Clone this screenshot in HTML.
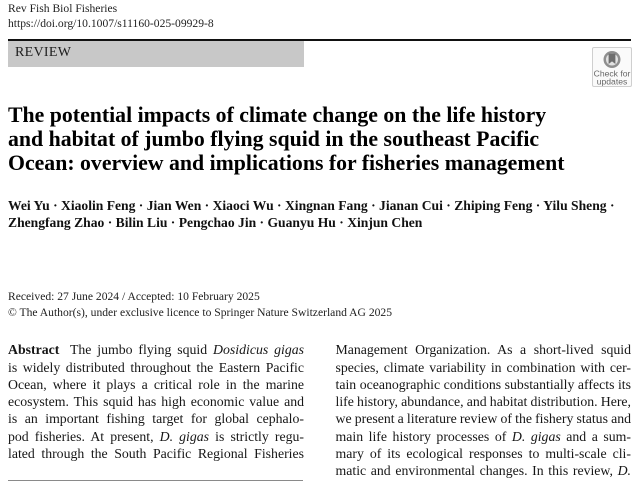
<!DOCTYPE html>
<html>
<head>
<meta charset="utf-8">
<style>
  html, body { margin:0; padding:0; }
  body { width:639px; height:482px; background:#fff; position:relative; overflow:hidden;
         font-family:"Liberation Serif", "Times New Roman", serif; color:#1a1a1a; }
  .a { position:absolute; white-space:nowrap; }
  .hdr { font-size:11.6px; line-height:11.6px; left:8px; color:#1e1e1e; }
  .rule { position:absolute; left:8px; top:39px; width:623px; height:2px; background:#111; }
  .review { position:absolute; left:8px; top:41px; width:296px; height:26px; background:#c8c8c8; }
  .revtxt { font-size:14px; line-height:14px; left:15px; top:46.3px; letter-spacing:0.3px; color:#1e1e1e; }
  .title { font-weight:bold; font-size:21.8px; line-height:24.2px; left:8px; top:102.8px; color:#000; }
  .auth { font-weight:bold; font-size:13.6px; line-height:17px; left:8px; top:197.1px; color:#111; }
  .dates { font-size:11.6px; line-height:16px; left:8px; top:288.8px; color:#1e1e1e; }
  .col { position:absolute; top:341.4px; font-size:13.8px; line-height:17.25px; color:#161616; }
  .col div { text-align:justify; text-align-last:justify; word-spacing:-1px; height:17.25px; }
  .left { left:8px; width:296px; }
  .right { left:335.5px; width:295.5px; }
  .bottom { position:absolute; left:8px; top:479.5px; width:295px; height:1.5px; background:#8a8a8a; }
  .badge { position:absolute; left:592px; top:47px; width:38px; height:38px; border:1px solid #cfcfcf; border-radius:2px; background:#fafafa; }
</style>
</head>
<body>
  <div class="a hdr" style="top:3px;">Rev Fish Biol Fisheries</div>
  <div class="a hdr" style="top:17.6px;">https://doi.org/10.1007/s11160-025-09929-8</div>

  <div class="rule"></div>
  <div class="review"></div>
  <div class="a revtxt">REVIEW</div>

  <div class="badge">
    <svg width="38" height="38" viewBox="0 0 38 38" style="position:absolute;left:0;top:0;">
      <circle cx="19" cy="11.5" r="8.5" fill="#8f8f8f"/>
      <circle cx="19" cy="11.5" r="6" fill="#e2e2e2"/>
      <path d="M15.6 5.6 L22.4 5.6 L22.4 16 L19 13.4 L15.6 16 Z" fill="#6e6e6e"/>
      <text x="19" y="28.5" text-anchor="middle" font-family="Liberation Sans, Arial, sans-serif" font-size="8.6" fill="#666">Check for</text>
      <text x="19" y="36.3" text-anchor="middle" font-family="Liberation Sans, Arial, sans-serif" font-size="8.6" fill="#666">updates</text>
    </svg>
  </div>

  <div class="a title">The potential impacts of climate change on the life history<br>and habitat of jumbo flying squid in the southeast Pacific<br>Ocean: overview and implications for fisheries management</div>

  <div class="a auth">Wei Yu · Xiaolin Feng · Jian Wen · Xiaoci Wu · Xingnan Fang · Jianan Cui · Zhiping Feng · Yilu Sheng ·<br>Zhengfang Zhao · Bilin Liu · Pengchao Jin · Guanyu Hu · Xinjun Chen</div>

  <div class="a dates">Received: 27 June 2024 / Accepted: 10 February 2025<br>© The Author(s), under exclusive licence to Springer Nature Switzerland AG 2025</div>

  <div class="col left">
    <div><b style="margin-right:5px;">Abstract</b> The jumbo flying squid <i>Dosidicus gigas</i></div>
    <div>is widely distributed throughout the Eastern Pacific</div>
    <div>Ocean, where it plays a critical role in the marine</div>
    <div>ecosystem. This squid has high economic value and</div>
    <div>is an important fishing target for global cephalo-</div>
    <div>pod fisheries. At present, <i>D. gigas</i> is strictly regu-</div>
    <div>lated through the South Pacific Regional Fisheries</div>
  </div>

  <div class="col right">
    <div>Management Organization. As a short-lived squid</div>
    <div>species, climate variability in combination with cer-</div>
    <div>tain oceanographic conditions substantially affects its</div>
    <div>life history, abundance, and habitat distribution. Here,</div>
    <div>we present a literature review of the fishery status and</div>
    <div>main life history processes of <i>D. gigas</i> and a sum-</div>
    <div>mary of its ecological responses to multi-scale cli-</div>
    <div>matic and environmental changes. In this review, <i>D.</i></div>
  </div>

  <div class="bottom"></div>
</body>
</html>
